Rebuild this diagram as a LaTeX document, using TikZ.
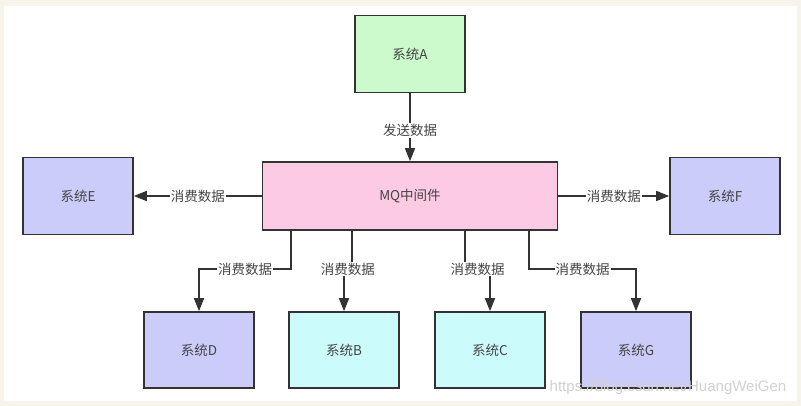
\documentclass[tikz,border=0pt]{standalone}
\usepackage{fontspec}
\setmainfont{Noto Sans CJK SC}
\newfontfamily\markfont{Liberation Sans}
\usetikzlibrary{positioning,arrows.meta,calc}
\definecolor{edgegray}{HTML}{333333}
\definecolor{txtgray}{HTML}{444444}
\definecolor{paper}{HTML}{F7F4EC}
\definecolor{sysgreen}{HTML}{CCFACC}
\definecolor{mqpink}{HTML}{FDCAE3}
\definecolor{syslilac}{HTML}{CCCCFA}
\definecolor{syscyan}{HTML}{CCFBFC}

\begin{document}
\begin{tikzpicture}[x=1pt,y=-1pt,>={Triangle[length=13pt,width=10pt]},
  sys/.style={draw=edgegray,line width=1.6pt,minimum width=110pt,minimum height=77pt,text=txtgray,font=\fontsize{13.5}{16}\selectfont},
  lbl/.style={fill=white,inner sep=1pt,text=txtgray,font=\fontsize{13.5}{16}\selectfont},
  flow/.style={->,draw=edgegray,line width=1.6pt}]
\fill[paper] (0,0) rectangle (801,406);
\fill[white] (4,6) rectangle (797,401);
% systems
\node[sys,fill=sysgreen] (A) at (410,54) {系统A};
\node[sys,fill=mqpink,minimum width=295pt,minimum height=68pt] (mq) at (410,196) {MQ中间件};
\node[sys,fill=syslilac] (E) at (78,196) {系统E};
\node[sys,fill=syslilac] (F) at (725,196) {系统F};
\node[sys,fill=syslilac,minimum height=76pt] (D) at (199,350) {系统D};
\node[sys,fill=syscyan,minimum height=76pt] (B) at (344,350) {系统B};
\node[sys,fill=syscyan,minimum height=76pt] (C) at (490,350) {系统C};
\node[sys,fill=syslilac,minimum height=76pt] (G) at (636,350) {系统G};
% data flow
\draw[flow] (A.south) -- (mq.north) node[lbl,pos=0.55] {发送数据};
\draw[flow] (mq.west) -- (E.east) node[lbl,midway] {消费数据};
\draw[flow] (mq.east) -- (F.west) node[lbl,midway] {消费数据};
\foreach \n/\dx in {D/29.5,B/90,C/203.5,G/267.5}
  \draw[flow] ($(mq.south west)+(\dx,0)$) |- node[lbl,pos=0.75] {消费数据} ($(\n.north)+(0,-42)$) -- (\n.north);
\node[text=gray!35,font=\fontsize{15}{17}\markfont] (wm) at (668,388) {https://blog.csdn.net/HuangWeiGen};
\end{tikzpicture}
\end{document}
